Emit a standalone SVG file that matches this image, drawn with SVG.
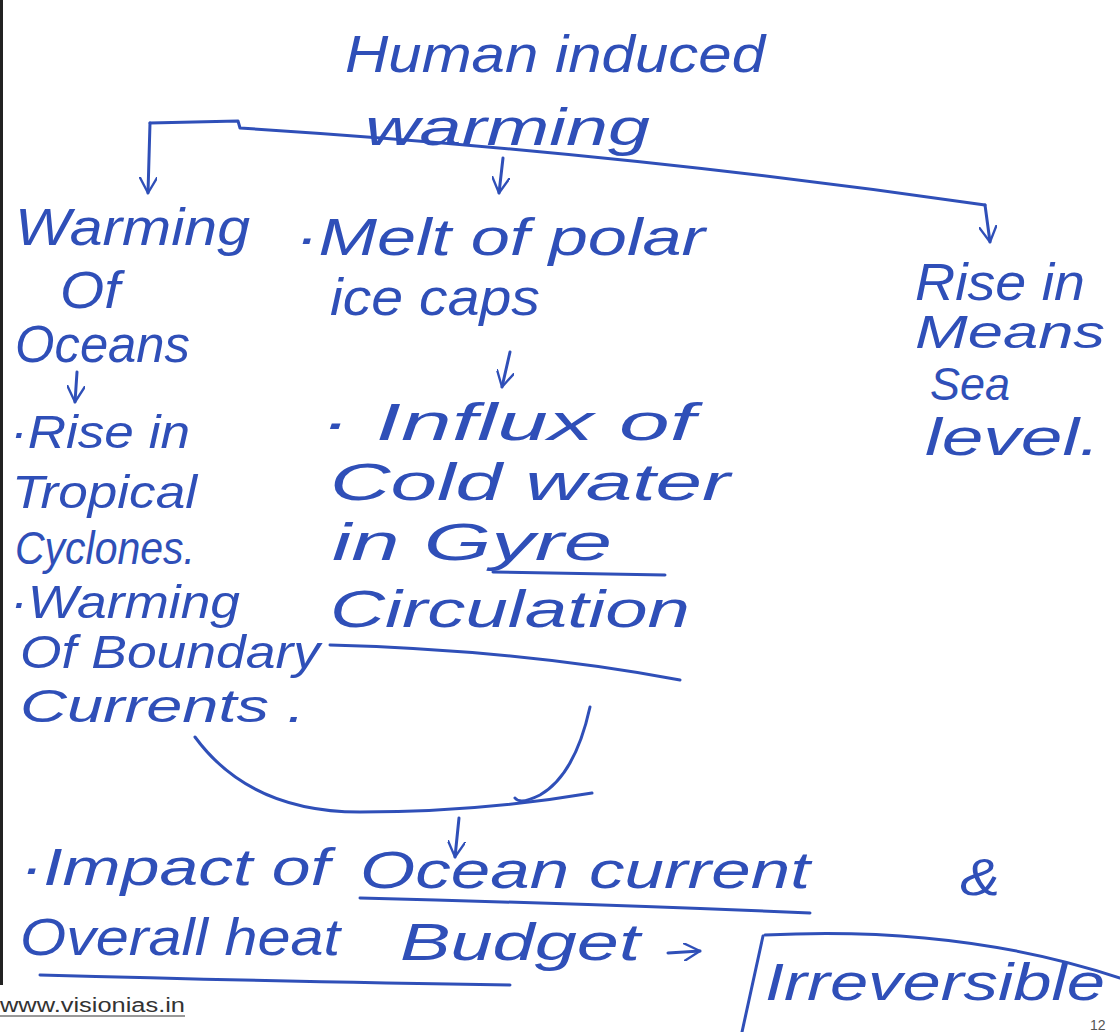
<svg xmlns="http://www.w3.org/2000/svg" width="1120" height="1032" viewBox="0 0 1120 1032">
<style>
.h{font-family:"Liberation Sans","DejaVu Sans",sans-serif;font-style:italic;font-size:52px;fill:#2f4fb8;}
.s{font-size:46px;}
.ln{fill:none;stroke:#2f4fb8;stroke-width:3;stroke-linecap:round;stroke-linejoin:round;}
.web{font-family:"Liberation Sans",Arial,sans-serif;font-size:20px;fill:#333;}
</style>
<defs>
<marker id="ah" viewBox="0 0 10 10" refX="9" refY="5" markerWidth="6" markerHeight="6" orient="auto" markerUnits="strokeWidth">
<path d="M0,0 L9,5 L0,10" fill="none" stroke="#2f4fb8" stroke-width="1.3" stroke-linecap="round" stroke-linejoin="round"/>
</marker>
</defs>
<rect x="0" y="0" width="1120" height="1032" fill="#ffffff"/>
<rect x="0" y="0" width="3" height="985" fill="#222"/>

<g id="connectors">
<path class="ln" d="M150 123 L238 121 L240 128 Q620 152 985 205"/>
<path class="ln" d="M150 123 L148 193" marker-end="url(#ah)"/>
<path class="ln" d="M985 205 L990 242" marker-end="url(#ah)"/>
<path class="ln" d="M503 158 L499 193" marker-end="url(#ah)"/>
<path class="ln" d="M77 372 L75 402" marker-end="url(#ah)"/>
<path class="ln" d="M510 352 L502 387" marker-end="url(#ah)"/>
<path class="ln" d="M195 737 Q250 812 360 812 Q480 812 592 793"/>
<path class="ln" d="M590 707 Q575 775 540 795 Q520 805 515 798"/>
<path class="ln" d="M459 818 L455 857" marker-end="url(#ah)"/>
<path class="ln" d="M668 953 L700 951" marker-end="url(#ah)"/>
</g>

<g id="root">
<text class="h" x="345" y="72" textLength="420" lengthAdjust="spacingAndGlyphs">Human induced</text>
<text class="h" x="365" y="145" textLength="285" lengthAdjust="spacingAndGlyphs">warming</text>
</g>

<g id="warming-oceans">
<text class="h" x="15" y="245" textLength="235" lengthAdjust="spacingAndGlyphs">Warming</text>
<text class="h" x="60" y="308" textLength="60" lengthAdjust="spacingAndGlyphs">Of</text>
<text class="h" x="15" y="362" textLength="175" lengthAdjust="spacingAndGlyphs">Oceans</text>
</g>

<g id="melt-ice-caps">
<text class="h" x="295" y="255" textLength="410" lengthAdjust="spacingAndGlyphs">·Melt of polar</text>
<text class="h" x="330" y="315" textLength="210" lengthAdjust="spacingAndGlyphs">ice caps</text>
</g>

<g id="sea-level">
<text class="h" x="915" y="300" textLength="170" lengthAdjust="spacingAndGlyphs">Rise in</text>
<text class="h s" x="915" y="348" textLength="190" lengthAdjust="spacingAndGlyphs">Means</text>
<text class="h s" x="930" y="400" textLength="80" lengthAdjust="spacingAndGlyphs">Sea</text>
<text class="h" x="925" y="455" textLength="175" lengthAdjust="spacingAndGlyphs">level.</text>
</g>

<g id="cyclones-currents">
<text class="h s" x="10" y="448" textLength="180" lengthAdjust="spacingAndGlyphs">·Rise in</text>
<text class="h s" x="12" y="508" textLength="185" lengthAdjust="spacingAndGlyphs">Tropical</text>
<text class="h s" x="15" y="564" textLength="180" lengthAdjust="spacingAndGlyphs">Cyclones.</text>
<text class="h s" x="10" y="618" textLength="230" lengthAdjust="spacingAndGlyphs">·Warming</text>
<text class="h s" x="20" y="668" textLength="300" lengthAdjust="spacingAndGlyphs">Of Boundary</text>
<text class="h s" x="20" y="722" textLength="285" lengthAdjust="spacingAndGlyphs">Currents .</text>
</g>

<g id="influx-cold-water">
<text class="h" x="320" y="440" textLength="375" lengthAdjust="spacingAndGlyphs">· Influx of</text>
<text class="h" x="330" y="500" textLength="400" lengthAdjust="spacingAndGlyphs">Cold water</text>
<text class="h" x="332" y="560" textLength="280" lengthAdjust="spacingAndGlyphs">in Gyre</text>
<path class="ln" d="M493 572 L665 575"/>
<text class="h" x="330" y="627" textLength="360" lengthAdjust="spacingAndGlyphs">Circulation</text>
<path class="ln" d="M330 645 Q520 650 680 680"/>
</g>

<g id="impact">
<text class="h" x="20" y="885" textLength="310" lengthAdjust="spacingAndGlyphs">·Impact of</text>
<text class="h" x="360" y="888" textLength="450" lengthAdjust="spacingAndGlyphs">Ocean current</text>
<path class="ln" d="M360 898 Q600 904 810 913"/>
<text class="h" x="960" y="895" textLength="40" lengthAdjust="spacingAndGlyphs">&amp;</text>
<text class="h" x="20" y="955" textLength="320" lengthAdjust="spacingAndGlyphs">Overall heat</text>
<text class="h" x="400" y="960" textLength="240" lengthAdjust="spacingAndGlyphs">Budget</text>
<path class="ln" d="M40 975 Q300 982 510 985"/>
</g>

<g id="irreversible">
<path class="ln" d="M763 936 L742 1032"/>
<path class="ln" d="M765 935 Q960 925 1120 978"/>
<text class="h" x="765" y="1000" textLength="340" lengthAdjust="spacingAndGlyphs">Irreversible</text>
</g>

<text class="web" x="0" y="1012" textLength="185" lengthAdjust="spacingAndGlyphs">www.visionias.in</text>
<line x1="0" y1="1016" x2="185" y2="1016" stroke="#333" stroke-width="1"/>
<text x="1090" y="1030" font-family="Liberation Sans, sans-serif" font-size="14" fill="#555">12</text>
</svg>
